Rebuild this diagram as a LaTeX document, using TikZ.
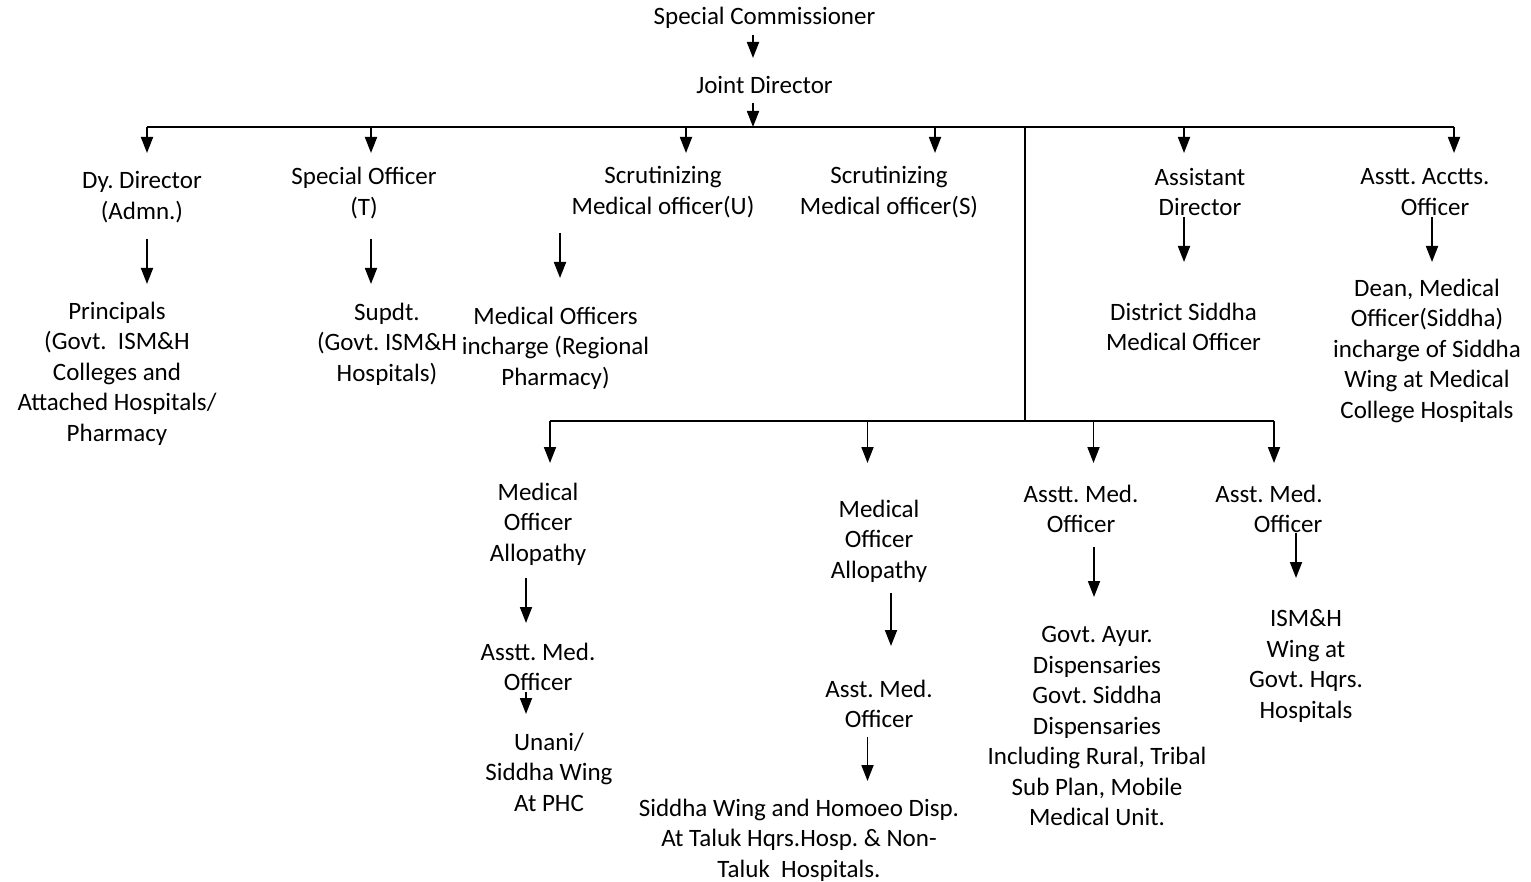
\documentclass[tikz,border=0pt]{standalone}
\usepackage{fontspec}
\setmainfont{Carlito}
\usetikzlibrary{arrows.meta}
\frenchspacing
\begin{document}
\begin{tikzpicture}[x=0.5pt,y=-0.5pt,
  lbl/.style={inner sep=0pt,align=center,font=\fontsize{12.5}{15.25}\selectfont\frenchspacing,yshift=-1pt},
  ln/.style={line width=0.9pt,black},
  arr/.style={ln,-{Triangle[width=6pt,length=8pt]}}]
\useasboundingbox (0,0) rectangle (1531,882);
% top
\node[lbl] (sc) at (764.5,16) {Special Commissioner};
\node[lbl] (jd) at (764.5,83) {Joint Director};
% level 1
\node[lbl] (dyd) at (142,195) {Dy. Director\\(Admn.)};
\node[lbl] (spo) at (364,191) {Special Officer\\(T)};
\node[lbl] (smu) at (663,190) {Scrutinizing\\Medical officer(U)};
\node[lbl] (sms) at (889,190) {Scrutinizing\\Medical officer(S)};
\node[lbl] (ad) at (1200,190) {Assistant\\Director};
\node[lbl] (aao) at (1425,190) {Asstt. Acctts.\\\hspace*{10pt}Officer};
% level 1 children
\node[lbl] (prin) at (117,371.6) {Principals\\(Govt.\ \ ISM\&H\\Colleges and\\Attached Hospitals/\\Pharmacy};
\node[lbl] (sup) at (387,342) {Supdt.\\(Govt. ISM\&H\\Hospitals)};
\node[lbl] (mor) at (555.5,346) {Medical Officers\\incharge (Regional\\Pharmacy)};
\node[lbl] (dsmo) at (1183.5,325) {District Siddha\\Medical Officer};
\node[lbl] (dean) at (1427,348.6) {Dean, Medical\\Officer(Siddha)\\incharge of Siddha\\Wing at Medical\\College Hospitals};
% level 2
\node[lbl] (moa1) at (538,522) {Medical\\Officer\\Allopathy};
\node[lbl] (amo1) at (538,665) {Asstt. Med.\\Officer};
\node[lbl] (unani) at (549,770) {Unani/\\Siddha Wing\\At PHC};
\node[lbl] (moa2) at (879,539) {Medical\\Officer\\Allopathy};
\node[lbl] (amo2) at (879,702) {Asst. Med.\\Officer};
\node[lbl] (swh) at (799,838) {Siddha Wing and Homoeo Disp.\\At Taluk Hqrs.Hosp. \& Non-\\Taluk\ \ Hospitals.};
\node[lbl] (amo3) at (1081,507) {Asstt. Med.\\Officer};
\node[lbl] (gad) at (1097,724) {Govt. Ayur.\\Dispensaries\\Govt. Siddha\\Dispensaries\\Including Rural, Tribal\\Sub Plan, Mobile\\Medical Unit.};
\node[lbl] (amo4) at (1269,507) {Asst. Med.\\\hspace*{19pt}Officer};
\node[lbl] (ism) at (1306,664) {ISM\&H\\Wing at\\Govt. Hqrs.\\Hospitals};
% coordinates
\coordinate (sc-o) at (753,35);   \coordinate (jd-i) at (753,58);
\coordinate (jd-o) at (753,103);  \coordinate (bus) at (753,127);
\coordinate (busL) at (147,127);  \coordinate (busR) at (1454,127);
\coordinate (busM) at (1025,127); \coordinate (bus2) at (1025,421);
\coordinate (bus2L) at (550,421); \coordinate (bus2R) at (1274,421);
% connectors top
\draw[arr] (sc-o) -- (jd-i);
\draw[arr] (jd-o) -- (bus);
\draw[ln] (busL) -- (busR);
\foreach \x in {147,371,686,935,1184,1454}
  \draw[arr] (\x,127) -- (\x,153);
\draw[ln] (busM) -- (bus2);
\draw[ln] (bus2L) -- (bus2R);
\foreach \x in {550,867.5,1093.5,1274}
  \draw[arr] (\x,421) -- (\x,463);
% child arrows
\coordinate (dyd-o) at (147,239);   \coordinate (prin-i) at (147,284);
\coordinate (spo-o) at (371,239);   \coordinate (sup-i) at (371,284);
\coordinate (smu-o) at (560,233);   \coordinate (mor-i) at (560,278);
\coordinate (ad-o) at (1184,217);   \coordinate (dsmo-i) at (1184,262);
\coordinate (aao-o) at (1432,217);  \coordinate (dean-i) at (1432,262);
\coordinate (moa1-o) at (526,578);  \coordinate (amo1-i) at (526,623);
\coordinate (amo1-o) at (526,692);  \coordinate (unani-i) at (526,714);
\coordinate (moa2-o) at (891,593);  \coordinate (amo2-i) at (891,646);
\coordinate (amo2-o) at (867.5,737);\coordinate (swh-i) at (867.5,781);
\coordinate (amo3-o) at (1094,547); \coordinate (gad-i) at (1094,597);
\coordinate (amo4-o) at (1296,533); \coordinate (ism-i) at (1296,578);
\foreach \a/\b in {dyd/prin,spo/sup,smu/mor,ad/dsmo,aao/dean,moa1/amo1,amo1/unani,moa2/amo2,amo2/swh,amo3/gad,amo4/ism}
  \draw[arr] (\a-o) -- (\b-i);
\end{tikzpicture}
\end{document}
